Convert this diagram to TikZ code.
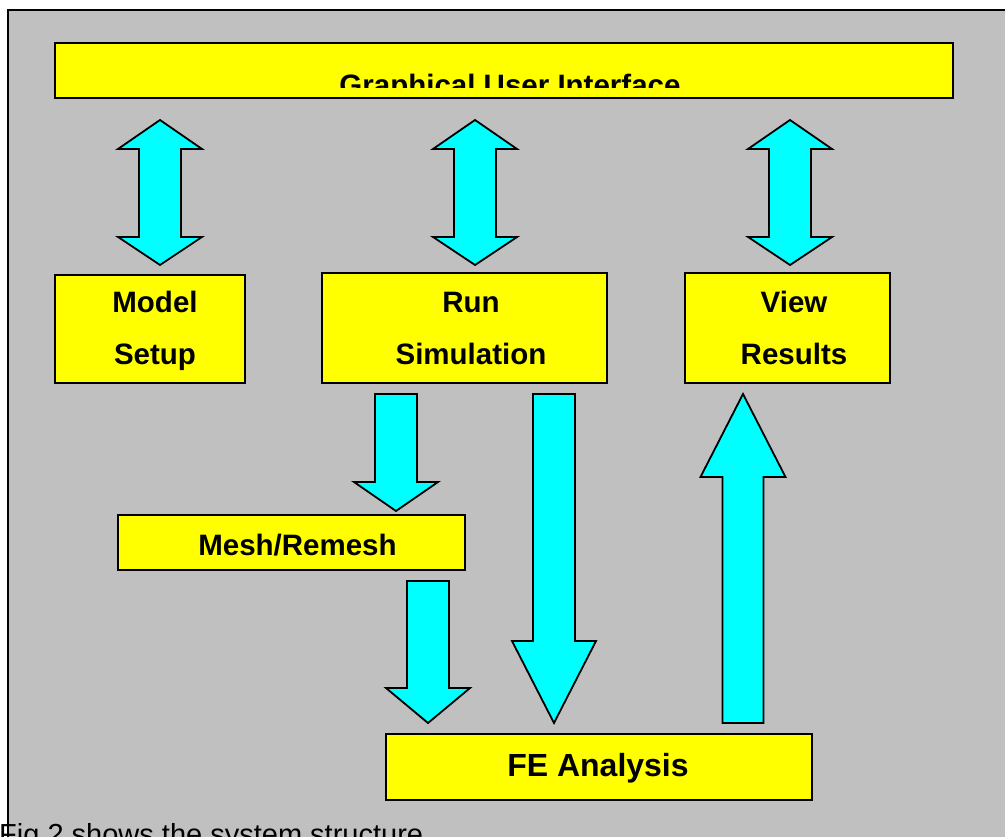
\documentclass[tikz,border=0pt]{standalone}
\usepackage{fontspec}
\setmainfont{Liberation Sans}
\usetikzlibrary{calc}
\definecolor{bggray}{HTML}{C0C0C0}
\definecolor{boxyellow}{HTML}{FFFF00}
\definecolor{arrowcyan}{HTML}{00FFFF}
\tikzset{
  box/.style={draw=black, line width=2pt, fill=boxyellow},
  lbl/.style={font=\fontsize{29.5}{35}\selectfont\bfseries, anchor=base, inner sep=0pt},
  blk/.style={draw=black, line width=1.8pt, fill=arrowcyan, line join=miter},
}
% single block arrow: #1 tail, #2 tip, #3 half shaft, #4 half head, #5 signed head length (y offset tip->head base)
\newcommand\blockarrow[5]{%
  \path[blk] ($(#1)+(-#3,0)$) -- ($(#1)+(#3,0)$) -- ($(#2)+(#3,#5)$) -- ($(#2)+(#4,#5)$)
    -- (#2) -- ($(#2)+(-#4,#5)$) -- ($(#2)+(-#3,#5)$) -- cycle;}
% double block arrow: #1 top tip, #2 bottom tip
\newcommand\dblarrow[2]{%
  \path[blk] (#1) -- ($(#1)+(42,29)$) -- ($(#1)+(21,29)$) -- ($(#2)+(21,-28)$) -- ($(#2)+(42,-28)$)
    -- (#2) -- ($(#2)+(-42,-28)$) -- ($(#2)+(-21,-28)$) -- ($(#1)+(-21,29)$) -- ($(#1)+(-42,29)$) -- cycle;}
\begin{document}
\begin{tikzpicture}[x=1pt, y=-1pt]
\useasboundingbox (0,0) rectangle (1005,837);
% frame
\fill[white] (0,0) rectangle (1005,837);
\path[fill=bggray, draw=black, line width=2pt] (8,10) rectangle (1030,900);
% boxes
\path[box] (55,43) rectangle (953,98);
\node[inner sep=0pt] (gui) at (504,70.5) {};
\begin{scope}
  \clip (55,43) rectangle (953,88);
  \node[lbl] (guiT) at (510,96) {Graphical User Interface};
\end{scope}
\path[box] (55,275) rectangle (245,383);
\node[inner sep=0pt] (model) at (150,329) {};
\node[lbl] (modelA) at (155,313) {Model};
\node[lbl] (modelB) at (155,365) {Setup};
\path[box] (322,273) rectangle (607,383);
\node[inner sep=0pt] (run) at (464.5,328) {};
\node[lbl] (runA) at (471,313) {Run};
\node[lbl] (runB) at (471,365) {Simulation};
\path[box] (685,273) rectangle (890,383);
\node[inner sep=0pt] (view) at (787.5,328) {};
\node[lbl] (viewA) at (794,313) {View};
\node[lbl] (viewB) at (794,365) {Results};
\path[box] (118,515) rectangle (465,570);
\node[lbl] (mesh) at (297.5,555) {Mesh/Remesh};
\path[box] (386,734) rectangle (812,800);
\node[lbl, font=\fontsize{32}{38}\selectfont\bfseries] (fe) at (598,776) {FE Analysis};
% double arrows GUI <-> modules
\coordinate (d1t) at (160,120); \coordinate (d1b) at (160,265);
\coordinate (d2t) at (475,120); \coordinate (d2b) at (475,265);
\coordinate (d3t) at (790,120); \coordinate (d3b) at (790,265);
\dblarrow{d1t}{d1b}
\dblarrow{d2t}{d2b}
\dblarrow{d3t}{d3b}
% block arrows
\coordinate (a1s) at (396,394); \coordinate (a1e) at (396,511);
\coordinate (a2s) at (428,581); \coordinate (a2e) at (428,723);
\coordinate (a3s) at (554,394); \coordinate (a3e) at (554,723);
\coordinate (a4s) at (743,723); \coordinate (a4e) at (743,394);
\blockarrow{a1s}{a1e}{21}{42}{-29}
\blockarrow{a2s}{a2e}{21}{42}{-35}
\blockarrow{a3s}{a3e}{21}{42}{-82}
\blockarrow{a4s}{a4e}{20.5}{42.5}{83}
% caption below
\node[font=\fontsize{29}{35}\selectfont, anchor=base west, inner sep=0pt] (cap) at (-1,844) {Fig 2 shows the system structure};
\end{tikzpicture}
\end{document}
